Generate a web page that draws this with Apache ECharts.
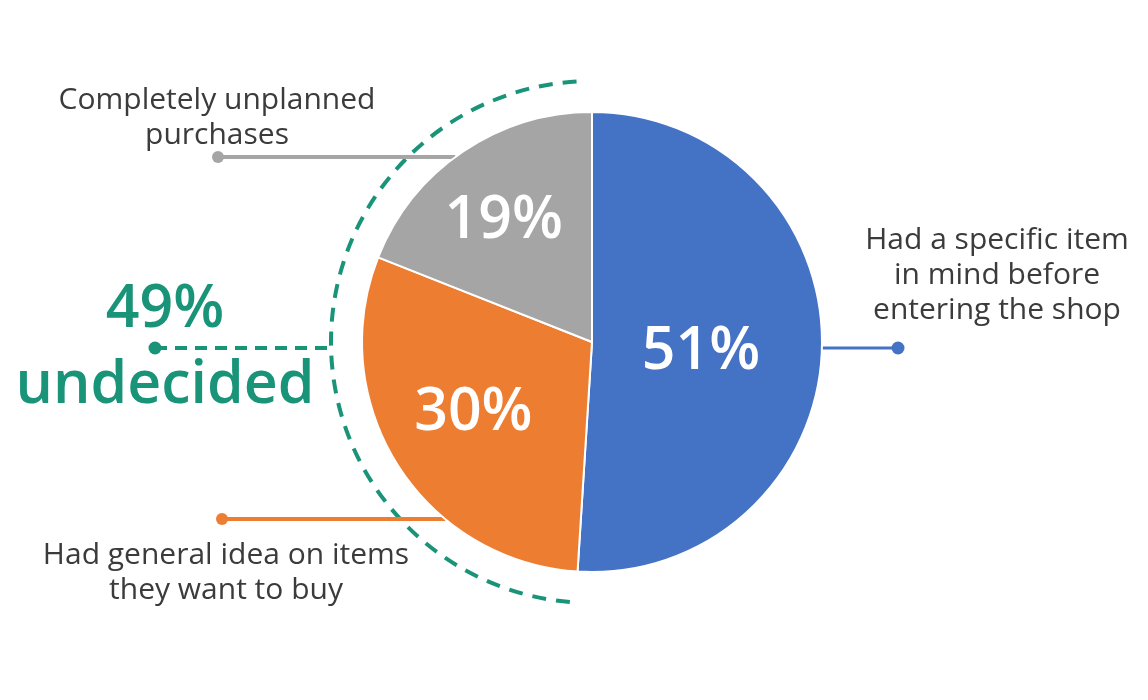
<!DOCTYPE html>
<html>
<head>
<meta charset="utf-8">
<script src="https://cdn.jsdelivr.net/npm/echarts@6/dist/echarts.min.js"></script>
<style>html,body{margin:0;padding:0;background:#fff}#c{width:1148px;height:700px}</style>
</head>
<body>
<div id="c"></div>
<script>
var categories = ['Had a specific item\nin mind before\nentering the shop', 'Had general idea on items\nthey want to buy', 'Completely unplanned\npurchases'];
var values = [51, 30, 19];
var colors = ['#4472C4', '#ED7D31', '#A5A5A5'];
var undecidedLabel = ['49%', 'undecided'];

var cx = 592, cy = 342, R = 230, arcR = 261;
var FONT = '"Open Sans", "Noto Sans", sans-serif';
var GREEN = '#1a9479';
var TEXT = '#3b3b3b';

// label offsets for inside percentage labels
var insideShift = [[-9, 6], [-19, 8], [-22, -23]];

var chart = echarts.init(document.getElementById('c'));

function edgeX(y, side) {
  var dy = y - cy;
  var dx = Math.sqrt(R * R - dy * dy);
  return side < 0 ? cx - dx : cx + dx;
}

var graphics = [];
var undecided = values[1] + values[2];
graphics.push({
  type: 'arc', silent: true,
  shape: { cx: cx, cy: cy, r: arcR, startAngle: Math.PI / 2 + 0.085, endAngle: 3 * Math.PI / 2 - 0.054, clockwise: true },
  style: { stroke: GREEN, lineWidth: 4, fill: null, lineDash: [14, 10] }
});
var gy = 157, oy = 519, by = 348;
graphics.push({ type: 'line', shape: { x1: 218, y1: gy, x2: edgeX(gy, -1), y2: gy }, style: { stroke: colors[2], lineWidth: 4 } });
graphics.push({ type: 'circle', shape: { cx: 218, cy: gy, r: 6 }, style: { fill: colors[2] } });
graphics.push({ type: 'line', shape: { x1: 222, y1: oy, x2: edgeX(oy, -1), y2: oy }, style: { stroke: colors[1], lineWidth: 4 } });
graphics.push({ type: 'circle', shape: { cx: 222, cy: oy, r: 6 }, style: { fill: colors[1] } });
graphics.push({ type: 'line', shape: { x1: edgeX(by, 1), y1: by, x2: 898, y2: by }, style: { stroke: colors[0], lineWidth: 3 } });
graphics.push({ type: 'circle', shape: { cx: 898, cy: by, r: 6.5 }, style: { fill: colors[0] } });
graphics.push({ type: 'line', shape: { x1: 155, y1: 348, x2: cx - arcR, y2: 348 }, style: { stroke: GREEN, lineWidth: 4, lineDash: [12, 8] } });
graphics.push({ type: 'circle', shape: { cx: 155, cy: 348, r: 6.5 }, style: { fill: GREEN } });
graphics.push({ type: 'text', x: 217, y: 118, style: { text: categories[2], fill: TEXT, font: '400 30px ' + FONT, align: 'center', verticalAlign: 'middle', lineHeight: 35 } });
graphics.push({ type: 'text', x: 997, y: 275, style: { text: categories[0], fill: TEXT, font: '400 30px ' + FONT, align: 'center', verticalAlign: 'middle', lineHeight: 35 } });
graphics.push({ type: 'text', x: 226, y: 573, style: { text: categories[1], fill: TEXT, font: '400 30px ' + FONT, align: 'center', verticalAlign: 'middle', lineHeight: 35 } });
graphics.push({ type: 'text', x: 165, y: 310, style: { text: undecided + '%', fill: GREEN, font: '600 59px ' + FONT, align: 'center', verticalAlign: 'middle' } });
graphics.push({ type: 'text', x: 165, y: 386, style: { text: undecidedLabel[1], fill: GREEN, font: '600 59px ' + FONT, align: 'center', verticalAlign: 'middle' } });

chart.setOption({
  backgroundColor: '#ffffff',
  animation: false,
  graphic: graphics,
  series: [{
    type: 'pie',
    center: [cx, cy],
    radius: [0, R],
    startAngle: 90,
    clockwise: true,
    silent: true,
    data: values.map(function (v, i) {
      return { name: categories[i], value: v, itemStyle: { color: colors[i] } };
    }),
    itemStyle: { borderColor: '#ffffff', borderWidth: 2 },
    label: {
      show: true, position: 'inside',
      formatter: '{c}%',
      color: '#ffffff', fontFamily: FONT, fontSize: 59, fontWeight: 600
    },
    labelLine: { show: false },
    labelLayout: function (p) {
      var s = insideShift[p.dataIndex];
      return { dx: s[0], dy: s[1] };
    }
  }]
});
</script>
</body>
</html>
